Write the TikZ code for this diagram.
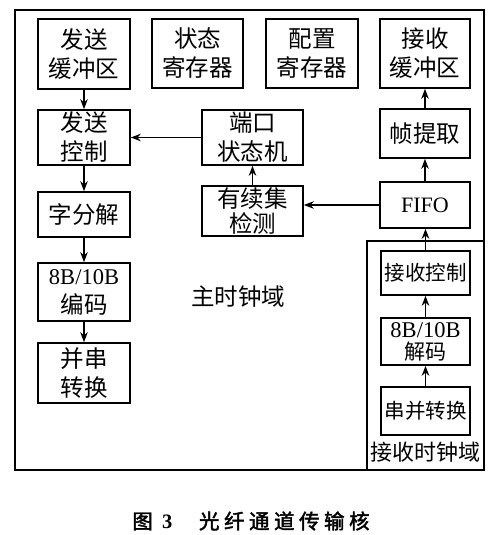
\documentclass[tikz,border=0pt]{standalone}
\usepackage{fontspec}
\setmainfont{Liberation Serif}
\newfontfamily\cjk{Noto Sans CJK SC}
\newfontfamily\cjkcap[FakeBold=2]{Noto Sans CJK SC}
\usetikzlibrary{arrows.meta}
\begin{document}
\begin{tikzpicture}[x=1pt,y=-1pt,
  blk/.style={draw, line width=1.6pt, inner sep=0pt, align=center,
    font=\fontsize{23.5}{29}\selectfont\cjk},
  arr/.style={line width=1.5pt, -{Stealth[length=10pt,width=7.5pt]}},
  lbl/.style={inner sep=0pt, font=\fontsize{23.5}{28}\selectfont\cjk}]
\useasboundingbox (0,0) rectangle (500,535);
\draw[line width=1.6pt] (15,10) rectangle (484,470);
\draw[line width=1.6pt] (367,241) rectangle (484,470);
% left column
\node[blk, minimum width=92pt, minimum height=70pt] (sendbuf) at (84,54) {发送\\缓冲区};
\node[blk, minimum width=92pt, minimum height=55pt] (sendctl) at (84,137.5) {发送\\控制};
\node[blk, minimum width=92pt, minimum height=45pt] (worddec) at (84,214.5) {字分解};
\node[blk, minimum width=92pt, minimum height=58pt] (enc) at (84,292) {{\fontsize{22.5}{25}\selectfont\rmfamily 8B/10B}\\编码};
\node[blk, minimum width=92pt, minimum height=60pt] (ps) at (84,373) {并串\\转换};
% registers
\node[blk, minimum width=91pt, minimum height=69pt] (statreg) at (197.5,53.5) {状态\\寄存器};
\node[blk, minimum width=92pt, minimum height=69pt] (cfgreg) at (312,53.5) {配置\\寄存器};
\node[blk, minimum width=90pt, minimum height=69pt] (rxbuf) at (425,53.5) {接收\\缓冲区};
% middle
\node[blk, minimum width=101pt, minimum height=55pt] (port) at (252.5,137.5) {端口\\状态机};
\node[blk, minimum width=101pt, minimum height=50pt, font=\fontsize{23.5}{25}\selectfont\cjk] (seq) at (252.5,211) {有续集\\检测};
% right column
\node[blk, minimum width=90pt, minimum height=49pt] (frame) at (425,133.5) {帧提取};
\node[blk, minimum width=90pt, minimum height=46pt, font=\fontsize{22}{26}\selectfont\rmfamily] (fifo) at (425,205) {FIFO};
\node[blk, minimum width=89pt, minimum height=44pt, font=\fontsize{20.5}{24}\selectfont\cjk] (rxctl) at (425.5,273) {接收控制};
\node[blk, minimum width=89pt, minimum height=47pt, font=\fontsize{21}{22}\selectfont\cjk] (dec) at (425.5,341.5) {{\fontsize{22.5}{22}\selectfont\rmfamily 8B/10B}\\解码};
\node[blk, minimum width=89pt, minimum height=48pt, font=\fontsize{20.5}{24}\selectfont\cjk] (sp) at (425.5,411) {串并转换};
\node[lbl, font=\fontsize{22}{26}\selectfont\cjk] (rxdom) at (425.5,452) {接收时钟域};
\node[lbl] (maindom) at (238,297) {主时钟域};
% caption
\node[inner sep=0pt, font=\fontsize{20.5}{24}\selectfont\cjkcap] (cap) at (251,521) {图\hspace{0.45em}{\rmfamily\bfseries 3}\hspace{1.3em}光\hspace{0.22em}纤\hspace{0.22em}通\hspace{0.22em}道\hspace{0.22em}传\hspace{0.22em}输\hspace{0.22em}核};
% arrows
\draw[arr] (sendbuf) -- (sendctl);
\draw[arr] (sendctl) -- (worddec);
\draw[arr] (worddec) -- (enc);
\draw[arr] (enc) -- (ps);
\draw[arr] (port) -- (sendctl);
\draw[arr] (seq) -- (port);
\draw[arr] (fifo.west) -- (fifo.west -| seq.east);
\draw[arr] (fifo) -- (frame);
\draw[arr] (frame) -- (rxbuf);
\draw[arr] (rxctl) -- (rxctl|-fifo.south);
\draw[arr] (dec) -- (rxctl);
\draw[arr] (sp) -- (dec);
\end{tikzpicture}
\end{document}
